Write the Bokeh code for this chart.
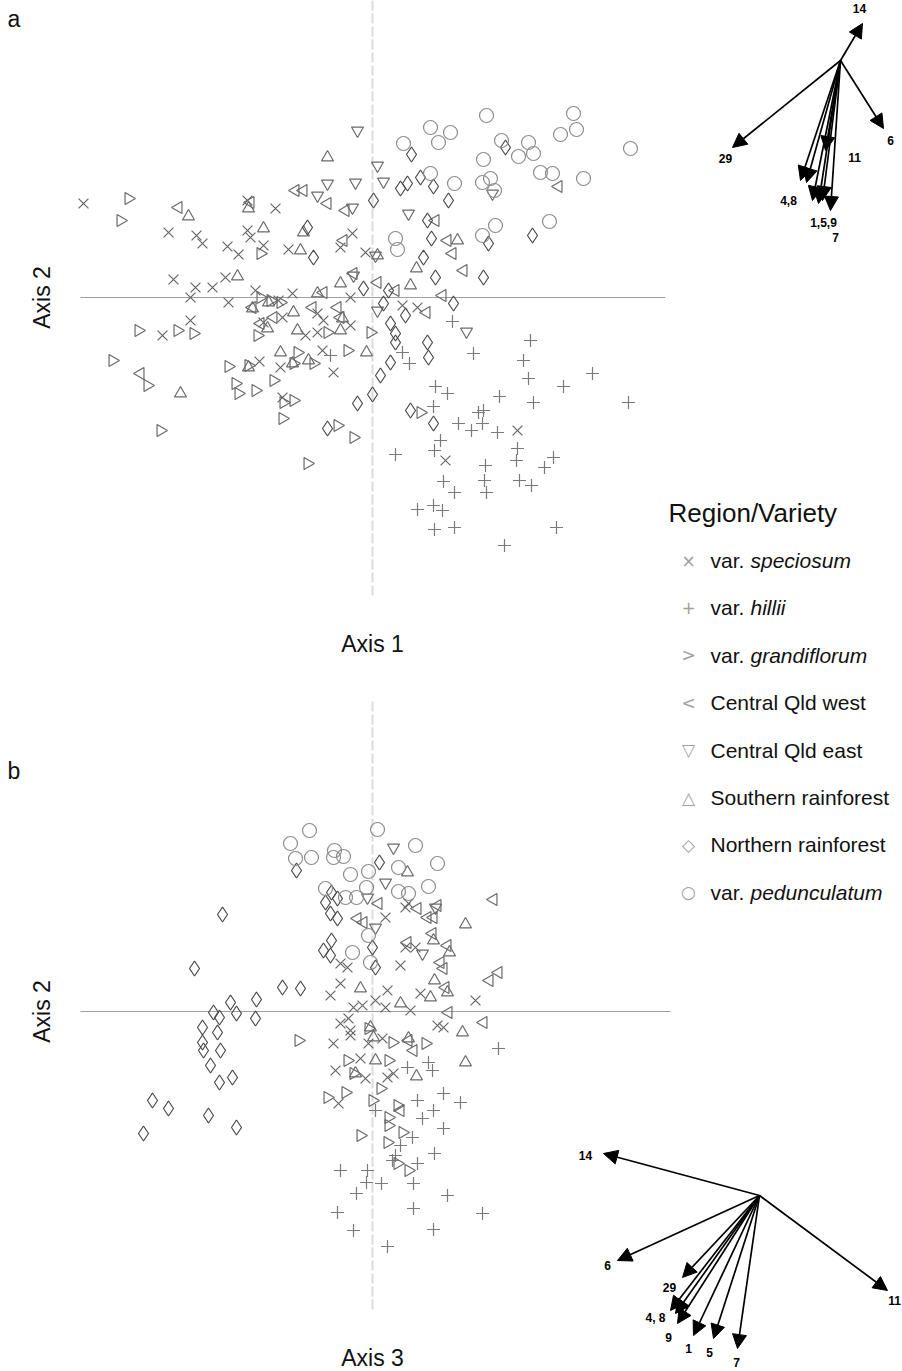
from bokeh.plotting import figure
from bokeh.models import Range1d, Label, Arrow, NormalHead, ColumnDataSource
from bokeh.embed import file_html
from bokeh.resources import INLINE
from bokeh.core.properties import value
import math

# ---------------- Panel a : Axis 1 (x) vs Axis 2 (y) ----------------
a_speciosum = [(-2.89, 0.94), (-2.04, 0.65), (-1.76, 0.62), (-1.70, 0.54), (-1.45, 0.51), (-1.34, 0.43),
               (-1.25, 0.97), (-0.97, 0.89), (-1.25, 0.67), (-1.22, 0.60), (-1.09, 0.52), (-0.84, 0.48),
               (-0.32, 0.50), (-0.20, 0.64), (-1.99, 0.18), (-1.77, 0.10), (-1.60, 0.10), (-1.47, 0.20),
               (-1.82, 0.00), (-1.44, -0.05), (-1.17, 0.07), (-0.94, -0.03), (-0.80, 0.04), (-0.22, 0.00),
               (-0.55, -0.16), (-0.49, -0.23), (-0.90, -0.20), (-1.82, -0.23), (-2.10, -0.38), (-0.67, -0.38),
               (-0.55, -0.35), (-0.22, -0.28), (-1.13, -0.64), (-0.92, -0.70), (-0.50, -0.53), (-0.39, -0.75),
               (-0.90, -1.00), (-0.07, 0.45), (0.30, -0.08), (0.45, -0.10), (-1.09, -0.25), (1.45, -1.33),
               (0.73, -1.63)]
a_hillii = [(1.58, -0.43), (1.51, -0.63), (1.56, -0.81), (1.91, -0.89), (2.20, -0.76), (2.56, -1.05),
            (1.61, -1.05), (1.27, -0.99), (1.11, -1.13), (1.06, -1.15), (0.63, -0.89), (0.75, -0.96),
            (0.61, -1.09), (0.86, -1.26), (0.99, -1.33), (1.10, -1.26), (1.25, -1.35), (0.68, -1.43),
            (0.62, -1.53), (1.45, -1.51), (1.44, -1.63), (1.81, -1.60), (1.72, -1.70), (1.13, -1.68),
            (0.71, -1.84), (1.12, -1.83), (1.14, -1.95), (1.47, -1.83), (1.59, -1.88), (0.82, -1.95),
            (0.45, -2.12), (0.61, -2.08), (0.70, -2.13), (0.62, -2.32), (0.82, -2.30), (1.84, -2.30),
            (1.32, -2.48), (0.80, -0.24), (0.30, -0.55), (0.37, -0.66), (1.01, -0.56), (-0.42, -0.58),
            (0.23, -1.57)]
a_grandiflorum = [(-2.44, 0.99), (-2.52, 0.77), (-1.12, 0.44), (-1.12, 0.00), (-1.02, -0.03), (-2.34, -0.33),
                  (-1.95, -0.33), (-1.79, -0.36), (-1.15, -0.38), (-0.45, -0.35), (-2.60, -0.63), (-2.25, -0.88),
                  (-2.12, -1.33), (-1.44, -0.69), (-1.24, -0.68), (-1.37, -0.86), (-1.34, -0.96), (-1.17, -0.93),
                  (-0.99, -0.83), (-0.79, -0.66), (-0.75, -0.55), (-0.59, -0.66), (-0.25, -0.53), (-0.89, -1.05),
                  (-0.79, -1.03), (-0.90, -1.21), (-0.35, -1.28), (-0.19, -1.40), (-0.65, -1.66), (-0.02, -0.35),
                  (0.48, -1.15), (-0.92, -0.05)]
a_cq_west = [(-1.94, 0.90), (-1.22, 0.95), (-0.77, 1.07), (-0.69, 1.07), (-0.45, 0.94), (-0.27, 0.87),
             (-0.29, 0.57), (-0.49, 0.05), (-0.35, -0.10), (-0.60, -0.10), (-0.32, -0.20), (-0.99, -0.20),
             (-0.19, 0.24), (-1.12, -0.26), (1.86, 1.11), (0.80, 0.44), (0.91, 0.27), (0.70, 0.02),
             (0.54, -0.15), (0.23, 0.07), (0.75, 0.57), (0.63, 0.77), (0.05, 0.15), (-1.20, -0.10),
             (-2.32, -0.76)]
a_cq_east = [(-0.15, 1.67), (-0.45, 1.14), (-0.17, 1.15), (0.11, 1.16), (-0.55, 1.02), (-0.20, 0.90),
             (0.05, 1.32), (0.36, 0.84), (0.94, -0.34), (1.20, 1.04), (0.05, -0.13), (0.03, 0.42),
             (-0.19, 0.22)]
a_southern = [(-1.84, 0.81), (-1.24, 0.89), (-1.09, 0.69), (-0.69, 0.65), (-0.45, 1.40), (-1.35, 0.21),
              (-1.20, -0.11), (-0.55, 0.04), (-0.32, 0.14), (-0.79, -0.15), (-1.05, -0.31), (-0.75, -0.33),
              (-0.32, -0.33), (-0.30, -0.21), (-0.92, -0.55), (-0.64, -0.63), (-0.80, -0.66), (-1.24, -0.70),
              (-1.92, -0.96), (-0.06, -0.55), (0.38, 0.12), (0.44, 0.29), (0.85, 0.57), (0.05, 0.42),
              (-1.04, -0.05), (-0.72, 0.47)]
a_northern = [(-0.59, 0.40), (-0.65, 0.70), (0.01, 0.97), (0.28, 1.09), (0.35, 1.14), (0.48, 1.20),
              (0.61, 1.11), (0.76, 0.97), (0.55, 0.77), (0.39, 1.43), (1.33, 1.50), (1.60, 0.62),
              (1.16, 0.54), (0.59, 0.59), (0.51, 0.40), (0.63, 0.20), (1.11, 0.20), (-0.09, 0.09),
              (0.16, 0.07), (0.81, -0.06), (0.11, -0.06), (0.33, -0.18), (0.18, -0.26), (0.23, -0.36),
              (0.23, -0.45), (0.55, -0.45), (0.56, -0.60), (0.18, -0.65), (0.08, -0.78), (0.00, -0.97),
              (-0.15, -1.06), (0.38, -1.13), (0.61, -1.26), (-0.45, -1.31)]
a_pedunculatum = [(1.14, 1.82), (2.01, 1.84), (2.04, 1.68), (1.88, 1.63), (2.58, 1.49), (0.58, 1.70),
                  (0.78, 1.65), (0.66, 1.55), (0.31, 1.54), (1.29, 1.57), (1.46, 1.41), (1.56, 1.55),
                  (1.61, 1.44), (1.11, 1.38), (1.68, 1.25), (1.80, 1.24), (2.11, 1.19), (1.10, 1.15),
                  (1.18, 1.19), (1.22, 1.07), (0.58, 1.24), (0.82, 1.14), (1.77, 0.76), (1.23, 0.72),
                  (1.10, 0.62), (0.23, 0.59), (0.25, 0.48)]

# ---------------- Panel b : Axis 3 (x) vs Axis 2 (y) ----------------
b_speciosum = [(-0.32, 0.48), (-0.25, 0.44), (-0.32, 0.28), (-0.22, -0.19), (0.33, 1.04), (0.13, 0.94),
               (0.36, 1.08), (0.33, 0.64), (0.43, 0.64), (0.28, 0.46), (1.03, 0.11), (-0.19, 0.04),
               (-0.10, 0.06), (0.03, 0.11), (0.13, 0.04), (0.38, 0.01), (-0.24, -0.07), (-0.32, -0.12),
               (0.65, -0.14), (0.71, -0.16), (-0.22, -0.24), (-0.39, -0.32), (0.10, -0.27), (-0.12, -0.47),
               (-0.37, -0.59), (-0.04, -0.32), (-0.07, -0.67), (0.15, -0.66), (0.21, -0.62), (-0.34, -0.92),
               (0.15, 0.21), (-0.42, 0.16), (0.48, 0.18)]
b_hillii = [(1.26, -0.37), (0.56, -0.51), (0.60, -0.59), (0.35, -0.56), (0.45, -0.89), (0.71, -0.82),
            (0.88, -0.91), (0.61, -0.99), (0.50, -1.07), (0.03, -0.99), (0.71, -1.17), (0.40, -1.26),
            (0.28, -1.34), (0.62, -1.42), (0.23, -1.44), (0.20, -1.49), (0.45, -1.52), (-0.32, -1.59),
            (-0.05, -1.59), (-0.06, -1.71), (0.09, -1.72), (0.41, -1.72), (-0.16, -1.82), (0.75, -1.84),
            (0.41, -1.97), (1.10, -2.02), (-0.35, -2.01), (-0.19, -2.19), (0.61, -2.18), (0.15, -2.35)]
b_grandiflorum = [(-0.74, -0.29), (0.20, -0.31), (0.53, -0.32), (-0.25, -0.49), (0.16, -0.49), (-0.19, -0.62),
                  (-0.45, -0.86), (-0.27, -0.81), (0.08, -0.77), (0.00, -0.89), (0.25, -0.94), (0.16, -1.06),
                  (0.16, -1.14), (-0.12, -1.24), (0.15, -1.31), (0.30, -1.21), (0.25, -1.52), (0.36, -1.59),
                  (-0.04, -0.17)]
b_cq_west = [(-0.15, 0.93), (0.06, 1.08), (1.21, 1.12), (0.45, 1.03), (-0.09, 0.89), (0.55, 0.94),
             (0.61, 0.94), (0.65, 1.06), (0.60, 0.78), (0.35, 0.69), (0.75, 0.66), (0.68, 0.49),
             (0.71, 0.43), (1.17, 0.31), (1.26, 0.39), (0.73, 0.24), (0.76, -0.01), (1.11, -0.11),
             (0.36, -0.29), (0.41, -0.39), (0.28, -0.99)]
b_cq_east = [(0.21, 1.64), (0.13, 1.29), (-0.05, 1.14), (0.63, 1.04), (0.03, 0.84), (0.50, 0.58)]
b_southern = [(0.35, 1.39), (0.93, 0.87), (0.61, 0.71), (0.77, 0.59), (0.62, 0.31), (0.75, 0.19),
              (-0.12, 0.23), (0.58, 0.14), (0.28, 0.08), (-0.02, -0.16), (0.01, -0.26), (0.90, -0.21),
              (0.93, -0.51), (0.03, -0.49), (-0.17, -0.62), (0.44, -0.65), (0.36, -0.27)]
b_northern = [(-0.76, 1.41), (-0.41, 1.19), (-0.47, 1.09), (-0.35, 1.13), (-0.42, 0.98), (-0.35, 0.93),
              (-0.41, 0.71), (-0.49, 0.61), (-0.42, 0.56), (0.07, 1.49), (0.00, 0.64), (0.03, 0.44),
              (-0.90, 0.24), (-0.72, 0.23), (-1.50, 0.97), (-1.78, 0.43), (-1.42, 0.09), (-1.16, 0.12),
              (-1.59, -0.01), (-1.53, -0.06), (-1.36, -0.02), (-1.17, -0.07), (-1.70, -0.16), (-1.55, -0.21),
              (-1.70, -0.31), (-1.69, -0.39), (-1.52, -0.39), (-1.62, -0.54), (-1.40, -0.66), (-1.53, -0.71),
              (-2.20, -0.89), (-2.04, -0.97), (-2.29, -1.22), (-1.64, -1.04), (-1.36, -1.16)]
b_pedunculatum = [(-0.63, 1.81), (0.05, 1.82), (-0.82, 1.68), (-0.77, 1.53), (-0.61, 1.54), (-0.39, 1.54),
                  (-0.38, 1.61), (-0.29, 1.55), (0.43, 1.66), (0.65, 1.48), (-0.22, 1.37), (-0.04, 1.40),
                  (0.26, 1.44), (0.56, 1.25), (-0.47, 1.23), (-0.27, 1.14), (-0.16, 1.14), (-0.06, 1.24),
                  (0.26, 1.20), (0.36, 1.18), (-0.04, 0.76), (-0.20, 0.59), (-0.02, 0.49)]

# ---------------- Biplot vectors ----------------
a_vec_names = ["14", "6", "29", "11", "4", "8", "1", "5", "9", "7"]
a_vec_x = [0.22, 0.43, -1.08, -0.15, -0.40, -0.34, -0.28, -0.22, -0.18, -0.10]
a_vec_y = [0.37, -0.68, -0.87, -0.90, -1.20, -1.22, -1.40, -1.43, -1.40, -1.50]
a_lab_text = ["14", "6", "29", "11", "4,8", "1,5,9", "7"]
a_lab_x = [0.19, 0.50, -1.15, 0.14, -0.52, -0.17, -0.05]
a_lab_y = [0.52, -0.80, -0.98, -0.97, -1.40, -1.62, -1.77]

b_vec_names = ["14", "6", "29", "4", "8", "9", "1", "5", "7", "11"]
b_vec_x = [-1.56, -1.42, -0.77, -0.89, -0.84, -0.82, -0.66, -0.46, -0.22, 1.28]
b_vec_y = [0.42, -0.65, -0.82, -1.15, -1.18, -1.28, -1.40, -1.43, -1.53, -0.95]
b_lab_text = ["14", "6", "29", "4, 8", "9", "1", "5", "7", "11"]
b_lab_x = [-1.74, -1.52, -0.90, -1.04, -0.91, -0.71, -0.50, -0.23, 1.35]
b_lab_y = [0.40, -0.70, -0.92, -1.22, -1.42, -1.53, -1.57, -1.67, -1.05]

legend_labels = [("var.", "speciosum"), ("var.", "hillii"), ("var.", "grandiflorum"),
                 ("Central Qld west", ""), ("Central Qld east", ""), ("Southern rainforest", ""),
                 ("Northern rainforest", ""), ("var.", "pedunculatum")]
legend_symbols = ["\u00d7", "+", ">", "<", "\u25bd", "\u25b3", "\u25c7", "\u25cb"]

# ---------------- layout (page pixels) ----------------
W, H = 902, 1371
UNIT = 100.0
A_C = (372, 297)      # origin of panel a
B_C = (372, 1011)     # origin of panel b
VA_C = (840, 60)      # origin of vectors a
VB_C = (759, 1195)    # origin of vectors b


def xr(c):
    return Range1d(-c[0] / UNIT, (W - c[0]) / UNIT)


def yr(c):
    return Range1d((c[1] - H) / UNIT, c[1] / UNIT)


p = figure(width=W, height=H, x_range=Range1d(0, W), y_range=Range1d(H, 0),
           output_backend="svg", toolbar_location=None, min_border=0,
           x_axis_location=None, y_axis_location=None, outline_line_color=None,
           background_fill_color="white", border_fill_color="white")
p.grid.visible = False
p.extra_x_ranges = {"ax": xr(A_C), "bx": xr(B_C), "vax": xr(VA_C), "vbx": xr(VB_C)}
p.extra_y_ranges = {"ay": yr(A_C), "by": yr(B_C), "vay": yr(VA_C), "vby": yr(VB_C)}

# axis lines
p.segment(x0=[-2.92], y0=[0], x1=[2.93], y1=[0], x_range_name="ax", y_range_name="ay",
          line_color="#a0a0a0", line_width=1)
p.segment(x0=[0], y0=[2.97], x1=[0], y1=[-3.0], x_range_name="ax", y_range_name="ay",
          line_color="#d2d2d2", line_width=2, line_alpha=0.8, line_dash="10 3")
p.segment(x0=[-2.92], y0=[0], x1=[2.98], y1=[0], x_range_name="bx", y_range_name="by",
          line_color="#a0a0a0", line_width=1)
p.segment(x0=[0], y0=[3.1], x1=[0], y1=[-3.0], x_range_name="bx", y_range_name="by",
          line_color="#d2d2d2", line_width=2, line_alpha=0.8, line_dash="10 3")

cats = [
    ("speciosum", "x", 0.0, 14, "#666666"),
    ("hillii", "cross", 0.0, 13, "#7a7a7a"),
    ("grandiflorum", "triangle", -math.pi / 2, 12, "#6a6a6a"),
    ("cq_west", "triangle", math.pi / 2, 12, "#6a6a6a"),
    ("cq_east", "inverted_triangle", 0.0, 12, "#6a6a6a"),
    ("southern", "triangle", 0.0, 12, "#6a6a6a"),
    ("northern", "diamond", 0.0, 15, "#4a4a4a"),
    ("pedunculatum", "circle", 0.0, 14, "#8c8c8c"),
]
a_sets = [a_speciosum, a_hillii, a_grandiflorum, a_cq_west, a_cq_east, a_southern, a_northern, a_pedunculatum]
b_sets = [b_speciosum, b_hillii, b_grandiflorum, b_cq_west, b_cq_east, b_southern, b_northern, b_pedunculatum]

for sets, xn, yn in ((a_sets, "ax", "ay"), (b_sets, "bx", "by")):
    for (name, marker, ang, size, col), pts in zip(cats, sets):
        xs = [q[0] for q in pts]
        ys = [q[1] for q in pts]
        p.scatter(xs, ys, marker=marker, angle=ang, size=size, fill_color=None,
                  line_color=col, line_width=1.2, x_range_name=xn, y_range_name=yn)

# vectors
for vx, vy, xn, yn in ((a_vec_x, a_vec_y, "vax", "vay"), (b_vec_x, b_vec_y, "vbx", "vby")):
    src = ColumnDataSource(dict(x0=[0.0] * len(vx), y0=[0.0] * len(vx), x1=vx, y1=vy))
    p.add_layout(Arrow(end=NormalHead(size=14, fill_color="black", line_color="black"),
                       x_start="x0", y_start="y0", x_end="x1", y_end="y1", source=src,
                       line_color="black", line_width=1.7, x_range_name=xn, y_range_name=yn))

p.text(a_lab_x, a_lab_y, text=a_lab_text, x_range_name="vax", y_range_name="vay",
       text_font=value("Liberation Sans"), text_font_style="bold", text_font_size="12px",
       text_align="center", text_baseline="middle", text_color="black")
p.text(b_lab_x, b_lab_y, text=b_lab_text, x_range_name="vbx", y_range_name="vby",
       text_font=value("Liberation Sans"), text_font_style="bold", text_font_size="12px",
       text_align="center", text_baseline="middle", text_color="black")

FONT = "Liberation Sans"


def lab(x, y, t, size, angle=0.0, align="center", style="normal"):
    p.add_layout(Label(x=x, y=y, text=t, text_font=FONT, text_font_size=size, angle=angle,
                       text_align=align, text_baseline="middle", text_color="#111111",
                       text_font_style=style))


lab(7, 18, "a", "23px", align="left")
lab(7, 770, "b", "23px", align="left")
lab(41, 297, "Axis 2", "23px", angle=math.pi / 2)
lab(41, 1011, "Axis 2", "23px", angle=math.pi / 2)
lab(372, 643, "Axis 1", "23px")
lab(372, 1357, "Axis 3", "23px")

# legend
lab(668, 512, "Region/Variety", "26px", align="left")
LEG_Y0, LEG_DY = 560, 47.4
for i, ((t1, t2), sym) in enumerate(zip(legend_labels, legend_symbols)):
    yy = LEG_Y0 + i * LEG_DY
    p.add_layout(Label(x=688, y=yy, text=sym, text_font="DejaVu Sans", text_font_size="17px",
                       text_align="center", text_baseline="middle", text_color="#a0a0a0"))
    lab(710, yy, t1, "21px", align="left")
    if t2:
        lab(750, yy, t2, "21px", align="left", style="italic")

open("out.html", "w").write(file_html(p, INLINE))
